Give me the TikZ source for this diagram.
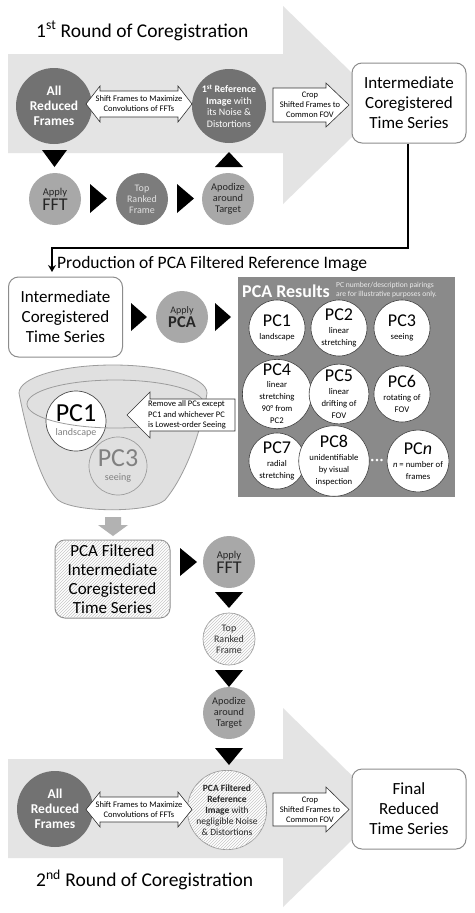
\documentclass[tikz,border=0pt]{standalone}
\usepackage{fontspec}
\setmainfont{Carlito}
\usetikzlibrary{patterns,arrows.meta,calc}
\definecolor{bigarrow}{HTML}{E4E4E4}
\definecolor{darkc}{HTML}{727272}
\definecolor{midc}{HTML}{7C7C7C}
\definecolor{lightc}{HTML}{A8A8A8}
\definecolor{panelc}{HTML}{8A8A8A}
\definecolor{funnelc}{HTML}{E0E0E0}
\definecolor{funline}{HTML}{9C9C9C}
\newcommand\fs[2]{\fontsize{#1}{#2}\selectfont}
\newcommand\pcl[1]{{\fs{18}{18}#1}}
\newcommand\dl[1]{{\fs{8.7}{10}#1}}
\begin{document}
\begin{tikzpicture}[x=1pt,y=-1pt,
  every node/.style={inner sep=0pt, align=center},
  bigarr/.style={fill=bigarrow},
  boxnode/.style={draw=black!45, line width=1pt, rounded corners=10pt, fill=white, minimum width=114pt, minimum height=80pt, font=\fs{17}{20}},
  dcircle/.style={circle, fill=darkc, text=white, minimum size=76pt},
  scircle/.style={circle, minimum size=52pt},
  pccirc/.style={circle, draw=black!75, line width=0.6pt, fill=white, minimum size=56pt},
  blockarr/.style={draw=black!80, fill=white, line width=0.6pt},
  tri/.style={fill=black},
  hatch/.style={fill=white, postaction={pattern=north east lines, pattern color=black!22}},
  titlef/.style={font=\fs{19.5}{22}, anchor=west},
  smallt/.style={font=\fs{8.5}{10}}
]
\useasboundingbox (0,0) rectangle (474,913);
\fill[white] (0,0) rectangle (474,913);

% ---------- 1st round ----------
\fill[bigarr] (8,54) -- (283,54) -- (283,6) -- (385,105) -- (283,204) -- (283,153) -- (8,153) -- cycle;
\node[titlef] (t1) at (36,31) {1\textsuperscript{st} Round of Coregistration};

\node[dcircle, font=\bfseries\fs{13.5}{15}] (arf1) at (54,106) {All\\Reduced\\Frames};
\node[dcircle, minimum size=74pt, font=\fs{10}{11.5}] (ref1) at (229,106) {\textbf{1\textsuperscript{st} Reference}\\\textbf{Image} with\\its Noise \&\\Distortions};

\draw[blockarr] (86,104) -- (100,86) -- (100,91) -- (178,91) -- (178,86) -- (192,104) -- (178,122) -- (178,117) -- (100,117) -- (100,122) -- cycle;
\node[smallt] (sh1) at (139,104) {Shift Frames to Maximize\\Convolutions of FFTs};

\draw[blockarr] (273,88) -- (326,88) -- (326,83) -- (349,105) -- (326,127) -- (326,122) -- (273,122) -- cycle;
\node[smallt] (cr1) at (310,105) {Crop\\Shifted Frames to\\Common FOV};

\node[boxnode] (ib1) at (409,103) {Intermediate\\Coregistered\\Time Series};

\fill[tri] (42,150) -- (67,150) -- (54.5,167) -- cycle;
\node[scircle, fill=lightc, text=black!85] (fft1) at (55,199) {{\fs{10.5}{11}Apply}\\[1pt]{\fs{18}{18}FFT}};
\fill[tri] (90,184) -- (90,213) -- (107,198.5) -- cycle;
\node[scircle, fill=midc, text=black!12, font=\fs{10}{11}] (trf1) at (142,199) {Top\\Ranked\\Frame};
\fill[tri] (177,184) -- (177,213) -- (194,198.5) -- cycle;
\node[scircle, fill=lightc, text=black!85, font=\fs{10.3}{11}] (apo1) at (228,199) {Apodize\\around\\Target};
\fill[tri] (215,167) -- (243,167) -- (229,152) -- cycle;

% ---------- connector ----------
\coordinate (c1) at (408,248);
\coordinate (c2) at (52,248);
\coordinate (c3) at (52,272);
\draw[line width=2.6pt] (ib1.south -| c1) -- (c1) -- ([xshift=-1.3pt]c2);
\draw[line width=1.6pt, -{Stealth[length=7pt,width=8pt]}] ([yshift=-1.3pt]c2) -- (c3);

\node[anchor=west, font=\fs{17.5}{20}] (t2) at (57,264) {Production of PCA Filtered Reference Image};

% ---------- PCA section ----------
\node[boxnode] (ib2) at (65.5,317) {Intermediate\\Coregistered\\Time Series};
\fill[tri] (131,303) -- (131,331) -- (147,317) -- cycle;
\node[scircle, fill=lightc, text=black!85] (pca) at (182,317) {{\fs{10}{11}Apply}\\[1pt]{\bfseries\fs{16.5}{17}PCA}};
\fill[tri] (215,303) -- (215,331) -- (231,317) -- cycle;

\node[fill=panelc, minimum width=217pt, minimum height=220pt, anchor=north west] (panel) at (238,277) {};
\node[anchor=west, text=white, font=\bfseries\fs{18}{19}] (pcat) at (242,291) {PCA Results};
\node[anchor=west, align=left, text=white!92!black, font=\fs{7.6}{9.5}] (pcan) at (336,290) {PC number/description pairings\\are for illustrative purposes only.};

\node[pccirc] (pc1) at (277,328) {\pcl{PC1}\\[1pt]\dl{landscape}};
\node[pccirc] (pc2) at (339,328) {\pcl{PC2}\\[1pt]\dl{linear}\\\dl{stretching}};
\node[pccirc] (pc3) at (402,328) {\pcl{PC3}\\[1pt]\dl{seeing}};
\node[pccirc] (pc4) at (277,394) {\pcl{PC4}\\\dl{linear}\\\dl{stretching}\\\dl{90° from}\\\dl{PC2}};
\node[pccirc] (pc5) at (339,394) {\pcl{PC5}\\[1pt]\dl{linear}\\\dl{drifting of}\\\dl{FOV}};
\node[pccirc] (pc6) at (402,394) {\pcl{PC6}\\[1pt]\dl{rotating of}\\\dl{FOV}};
\node[pccirc] (pc7) at (277,461) {\pcl{PC7}\\[1pt]\dl{radial}\\\dl{stretching}};
\node[pccirc] (pc8) at (334,461) {\pcl{PC8}\\[1pt]\dl{unidentifiable}\\\dl{by visual}\\\dl{inspection}};
\node[text=white, font=\fs{7}{7}] (dots) at (377,461) {\textbullet\,\textbullet\,\textbullet};
\node[pccirc] (pcn) at (418,461) {\pcl{PC\textit{n}}\\[1pt]\dl{\textit{n} = number of}\\\dl{frames}};

% ---------- funnel ----------
\filldraw[fill=funnelc, draw=funline, line width=0.8pt]
  (19,393) .. controls (28,440) and (42,485) .. (58,500)
  .. controls (75,513) and (150,513) .. (165,500)
  .. controls (182,480) and (200,440) .. (207,393)
  arc[start angle=0, end angle=-180, x radius=94, y radius=28] -- cycle;
\node[circle, draw=black!70, line width=0.7pt, fill=white, minimum size=60pt] (fpc1) at (76,421) {{\fs{26}{24}PC1}\\[2pt]{\color{black!50}\fs{10}{11}landscape}};
\draw[funline, line width=0.8pt] (115.5,404) ellipse [x radius=88.5, y radius=24];
\node[circle, draw=funline, line width=0.7pt, minimum size=58pt, text=black!50] (fpc3) at (118,466) {{\fs{26}{24}PC3}\\[2pt]{\fs{10}{11}seeing}};

\draw[blockarr] (127,415) -- (150,392) -- (150,399) -- (235,399) -- (235,431) -- (150,431) -- (150,438) -- cycle;
\node[align=left, font=\fs{8.5}{10.6}] (rm) at (187,415) {Remove all PCs except\\PC1 and whichever PC\\is Lowest-order Seeing};

\fill[black!30] (105,517) -- (121,517) -- (121,525) -- (128,525) -- (113,536) -- (98,525) -- (105,525) -- cycle;

\node[boxnode, hatch, minimum width=115pt, minimum height=78pt, font=\fs{17}{19}] (pfb) at (112.5,579) {PCA Filtered\\Intermediate\\Coregistered\\Time Series};
\fill[tri] (180,548) -- (180,576) -- (197,562) -- cycle;
\node[scircle, fill=lightc, text=black!85] (fft2) at (229,562) {{\fs{10.5}{11}Apply}\\[1pt]{\fs{18}{18}FFT}};
\fill[tri] (215,592) -- (243,592) -- (229,608) -- cycle;
\node[scircle, hatch, draw=black!40, line width=0.7pt, text=black!80, font=\fs{10}{11}] (trf2) at (229,639) {Top\\Ranked\\Frame};
\fill[tri] (215,670) -- (243,670) -- (229,687) -- cycle;
\node[scircle, fill=lightc, text=black!85, font=\fs{10.3}{11}] (apo2) at (229,713) {Apodize\\around\\Target};

% ---------- 2nd round ----------
\fill[bigarr] (8,759) -- (283,759) -- (283,708) -- (385,808) -- (283,907) -- (283,858) -- (8,858) -- cycle;
\fill[tri] (215,748) -- (243,748) -- (229,765) -- cycle;

\node[dcircle, font=\bfseries\fs{13.5}{15}] (arf2) at (55,809) {All\\Reduced\\Frames};
\node[circle, hatch, draw=black!40, line width=0.7pt, minimum size=76pt, text=black!85, font=\fs{9.5}{11}] (ref2) at (227,810) {\textbf{PCA Filtered}\\\textbf{Reference}\\\textbf{Image} with\\negligible Noise\\\& Distortions};

\draw[blockarr] (86,809.5) -- (100,792) -- (100,797) -- (178,797) -- (178,792) -- (192,809.5) -- (178,827) -- (178,822) -- (100,822) -- (100,827) -- cycle;
\node[smallt] (sh2) at (139,809.5) {Shift Frames to Maximize\\Convolutions of FFTs};

\draw[blockarr] (273,793) -- (326,793) -- (326,787) -- (349,809.5) -- (326,832) -- (326,826) -- (273,826) -- cycle;
\node[smallt] (cr2) at (310,809.5) {Crop\\Shifted Frames to\\Common FOV};

\node[boxnode] (fin) at (409,809) {Final\\Reduced\\Time Series};

\node[titlef] (t3) at (36,880) {2\textsuperscript{nd} Round of Coregistration};
\end{tikzpicture}
\end{document}
